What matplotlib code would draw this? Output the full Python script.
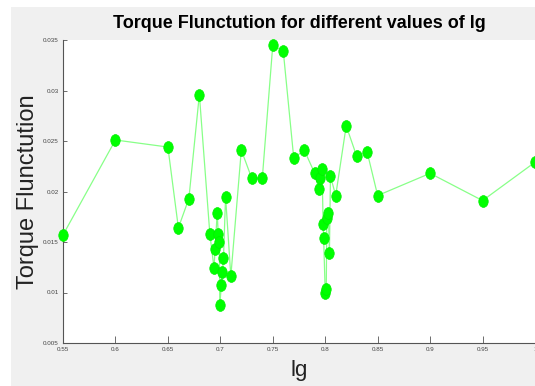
import numpy as np
import matplotlib
matplotlib.use("Agg")
import matplotlib.pyplot as plt
from matplotlib.patches import Rectangle
from matplotlib.path import Path
from matplotlib.transforms import Affine2D

lg = [0.55, 0.60, 0.65, 0.66, 0.67, 0.68,
      0.690, 0.694, 0.695, 0.697, 0.698, 0.699, 0.6995, 0.701, 0.702, 0.703, 0.705, 0.710,
      0.72, 0.73, 0.74, 0.75, 0.76, 0.77, 0.78,
      0.790, 0.794, 0.795, 0.797, 0.798, 0.7985, 0.800, 0.801, 0.8015, 0.803, 0.804, 0.805, 0.810,
      0.82, 0.83, 0.84, 0.85, 0.90, 0.95, 1.00]
torque = [0.0157, 0.0251, 0.0244, 0.0164, 0.0193, 0.0296,
          0.0158, 0.0124, 0.0143, 0.0179, 0.0158, 0.0150, 0.0088, 0.0107, 0.0120, 0.0134, 0.0195, 0.0116,
          0.0241, 0.0213, 0.0213, 0.0345, 0.0339, 0.0233, 0.0241,
          0.0218, 0.0202, 0.0213, 0.0222, 0.0168, 0.0154, 0.0100, 0.0103, 0.0174, 0.0179, 0.0139, 0.0215, 0.0196,
          0.0265, 0.0235, 0.0239, 0.0196, 0.0218, 0.0191, 0.0229]

xticks = [0.55, 0.6, 0.65, 0.7, 0.75, 0.8, 0.85, 0.9, 0.95, 1.0]
xticklabels = ["0.55", "0.6", "0.65", "0.7", "0.75", "0.8", "0.85", "0.9", "0.95", "1"]
yticks = [0.005, 0.01, 0.015, 0.02, 0.025, 0.03, 0.035]
yticklabels = ["0.005", "0.01", "0.015", "0.02", "0.025", "0.03", "0.035"]

plt.rcParams['font.family'] = ['Liberation Sans', 'DejaVu Sans']

W, H = 535, 386
fig = plt.figure(figsize=(W / 100, H / 100), dpi=100, facecolor='white')
fig.patches.append(Rectangle((11 / W, 0), 1 - 11 / W, 1 - 7 / H,
                             transform=fig.transFigure, facecolor='#f0f0f0',
                             edgecolor='none', zorder=-10))

ax = fig.add_axes([63 / W, 43 / H, (W - 63) / W, (343 - 40) / H])
ax.set_facecolor('white')

ell = Path.unit_circle().transformed(Affine2D().scale(0.8, 1.0))
ax.plot(lg, torque, color='#88ff88', lw=0.9, zorder=2, clip_on=False)
ax.plot(lg, torque, linestyle='none', marker=ell, markersize=8.5,
        markerfacecolor='#00ff00', markeredgecolor='#00ee00', markeredgewidth=0.5,
        zorder=3, clip_on=False)

ax.set_xlim(0.55, 1.0)
ax.set_ylim(0.005, 0.035)
ax.set_xticks(xticks)
ax.set_xticklabels(xticklabels)
ax.set_yticks(yticks)
ax.set_yticklabels(yticklabels)

for s in ['top', 'right']:
    ax.spines[s].set_visible(False)
for s in ['left', 'bottom']:
    ax.spines[s].set_color('#555555')
    ax.spines[s].set_linewidth(0.8)

ax.tick_params(axis='both', direction='in', colors='#555555', labelsize=4.5,
               labelcolor='#444444', width=0.6)
ax.tick_params(axis='x', length=5, pad=3)
ax.tick_params(axis='y', length=3, pad=3)

ax.set_title("Torque Flunctution for different values of lg", fontsize=13,
             fontweight='bold', pad=9, color='black')
ax.set_xlabel("lg", fontsize=16, color='#222222')
ax.xaxis.set_label_coords(0.5, -0.055)
ax.set_ylabel("Torque Flunctution", fontsize=17, color='#222222')
ax.yaxis.set_label_coords(-0.05, 0.5)

fig.savefig("out.png", dpi=100, facecolor=fig.get_facecolor())
